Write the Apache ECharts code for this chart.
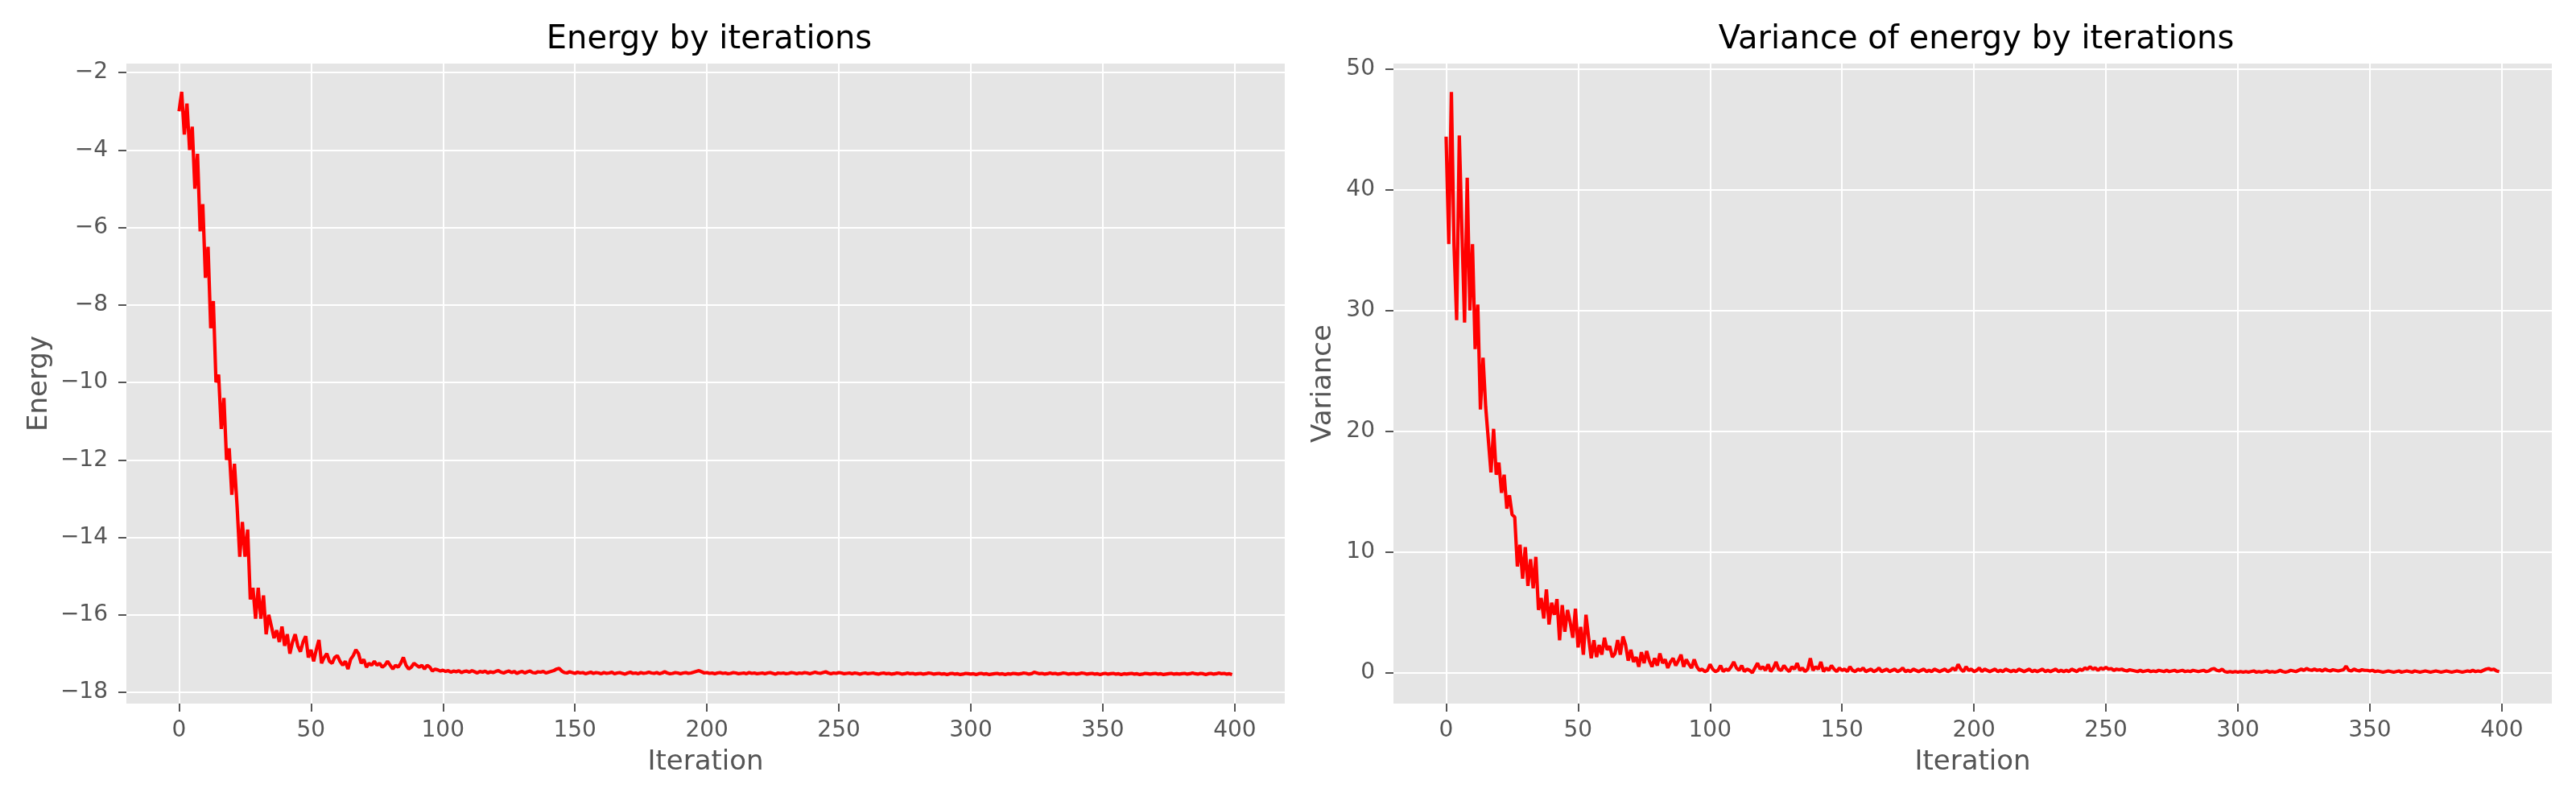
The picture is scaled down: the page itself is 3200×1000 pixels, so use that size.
<!DOCTYPE html>
<html>
<head>
<meta charset="utf-8">
<style>
  html, body { margin: 0; padding: 0; background: #fff; }
  #main { width: 3200px; height: 1000px; }
</style>
</head>
<body>
<div id="main"></div>
<script src="https://cdn.jsdelivr.net/npm/echarts@6/dist/echarts.min.js"></script>
<script>
  var chartDom = document.getElementById('main');
  var myChart = echarts.init(chartDom, null, { renderer: 'canvas' });
  var option;

  // energy per iteration
  const energy = [
    -3.0, -2.5, -3.6, -2.8, -4.0, -3.4, -5.0, -4.1, -6.1, -5.4, -7.3, -6.5, -8.6, -7.9, -10.0, -9.8, -11.2, -10.4, -12.0, -11.7,
    -12.9, -12.1, -13.2, -14.5, -13.6, -14.5, -13.8, -15.6, -15.3, -16.1, -15.3, -16.1, -15.5, -16.5, -16.0, -16.3, -16.6, -16.4, -16.7, -16.3,
    -16.8, -16.5, -17.0, -16.7, -16.5, -16.8, -16.95, -16.7, -16.55, -17.1, -16.9, -17.2, -16.9, -16.65, -17.25, -17.1, -17.0, -17.2, -17.25, -17.1,
    -17.05, -17.2, -17.3, -17.2, -17.4, -17.15, -17.05, -16.9, -17.0, -17.25, -17.15, -17.35, -17.25, -17.3, -17.2, -17.3, -17.25, -17.35, -17.3, -17.2,
    -17.3, -17.4, -17.3, -17.35, -17.25, -17.1, -17.3, -17.4, -17.35, -17.25, -17.3, -17.35, -17.3, -17.4, -17.3, -17.35, -17.45, -17.4, -17.42, -17.45,
    -17.43, -17.46, -17.44, -17.48, -17.45, -17.47, -17.44, -17.49, -17.46, -17.45, -17.48, -17.44, -17.47, -17.5, -17.46, -17.48, -17.45, -17.5, -17.47, -17.49,
    -17.46, -17.44, -17.48, -17.5, -17.47, -17.45, -17.49, -17.46, -17.51, -17.48, -17.46, -17.5, -17.47, -17.45, -17.49, -17.5, -17.47, -17.48, -17.46, -17.5,
    -17.48, -17.46, -17.44, -17.4, -17.38, -17.45, -17.49, -17.5, -17.47, -17.49, -17.51, -17.48, -17.5, -17.49, -17.52, -17.5, -17.48, -17.51, -17.49, -17.5,
    -17.52, -17.49, -17.51, -17.5, -17.48, -17.52, -17.5, -17.49, -17.51, -17.53, -17.5, -17.48, -17.51, -17.5, -17.52, -17.49, -17.51, -17.5, -17.48, -17.5,
    -17.51, -17.49, -17.52, -17.5, -17.47, -17.5, -17.52, -17.51, -17.49, -17.5, -17.52, -17.5, -17.49, -17.51, -17.5, -17.48, -17.46, -17.44, -17.47, -17.5,
    -17.49, -17.51, -17.5, -17.52, -17.5, -17.49, -17.51, -17.5, -17.52, -17.51, -17.49, -17.5, -17.52, -17.51, -17.5, -17.52, -17.49, -17.51, -17.5, -17.52,
    -17.51, -17.5, -17.52, -17.5, -17.49, -17.51, -17.53, -17.5, -17.51, -17.5, -17.52, -17.51, -17.49, -17.5, -17.52, -17.5, -17.51, -17.49, -17.5, -17.52,
    -17.5, -17.48, -17.5, -17.51, -17.49, -17.47, -17.5, -17.52, -17.5, -17.51, -17.49, -17.5, -17.52, -17.51, -17.5, -17.52, -17.5, -17.51, -17.53, -17.51,
    -17.5, -17.52, -17.51, -17.5, -17.52, -17.53, -17.51, -17.5, -17.52, -17.51, -17.53, -17.52, -17.5, -17.51, -17.53, -17.52, -17.5, -17.52, -17.51, -17.53,
    -17.52, -17.51, -17.53, -17.52, -17.5, -17.51, -17.53, -17.52, -17.51, -17.53, -17.52, -17.54, -17.52, -17.51, -17.53, -17.52, -17.54, -17.53, -17.51, -17.52,
    -17.53, -17.52, -17.54, -17.52, -17.51, -17.53, -17.52, -17.54, -17.53, -17.52, -17.51, -17.53, -17.52, -17.54, -17.52, -17.53, -17.51, -17.52, -17.53, -17.52,
    -17.5, -17.51, -17.53, -17.52, -17.48, -17.5, -17.52, -17.51, -17.53, -17.52, -17.5, -17.52, -17.51, -17.53, -17.52, -17.5, -17.51, -17.53, -17.52, -17.51,
    -17.53, -17.52, -17.5, -17.51, -17.53, -17.52, -17.51, -17.53, -17.52, -17.54, -17.52, -17.51, -17.53, -17.52, -17.51, -17.53, -17.52, -17.54, -17.52, -17.53,
    -17.52, -17.51, -17.53, -17.52, -17.54, -17.53, -17.51, -17.52, -17.53, -17.52, -17.51, -17.53, -17.52, -17.54, -17.53, -17.52, -17.51, -17.53, -17.52, -17.53,
    -17.52, -17.51, -17.53, -17.52, -17.5, -17.52, -17.53, -17.51, -17.52, -17.54, -17.52, -17.51, -17.53, -17.52, -17.5, -17.52, -17.51, -17.53, -17.52, -17.54
  ];

  // variance of energy per iteration
  const variance = [
    44.4, 35.5, 48.1, 35.4, 29.2, 44.5, 36.5, 29.0, 41.0, 30.0, 35.5, 26.8, 30.5, 21.8, 26.1, 22.0, 19.3, 16.6, 20.2, 16.4,
    17.4, 14.9, 16.4, 13.6, 14.7, 13.1, 12.9, 8.8, 10.6, 7.8, 10.4, 7.2, 9.4, 7.0, 9.6, 5.2, 6.2, 4.5, 6.9, 4.0,
    5.8, 4.8, 6.1, 2.7, 5.6, 3.4, 5.2, 4.2, 2.9, 5.3, 2.1, 3.8, 1.5, 4.8, 2.9, 1.2, 2.7, 1.3, 2.3, 1.5,
    2.9, 1.9, 2.2, 1.3, 1.6, 2.7, 1.5, 3.0, 2.3, 1.0, 1.9, 0.9, 1.3, 0.5, 1.7, 0.8, 1.8, 1.0, 0.5, 1.2,
    0.6, 1.6, 0.8, 1.1, 0.4, 0.9, 1.2, 0.6, 1.0, 1.5, 0.5, 1.1, 0.7, 0.4, 1.1, 0.5, 0.2, 0.3, 0.1, 0.2,
    0.7, 0.3, 0.1, 0.2, 0.6, 0.1, 0.3, 0.2, 0.5, 0.9,
    0.4, 0.2, 0.6, 0.1, 0.3, 0.2, 0.0, 0.4, 0.8, 0.3, 0.5, 0.2, 0.7, 0.1, 0.4, 0.9, 0.3, 0.2, 0.6, 0.3,
    0.1, 0.5, 0.3, 0.8, 0.2, 0.4, 0.1, 0.3, 1.2, 0.2, 0.5, 0.3, 0.9, 0.1, 0.4, 0.2, 0.6, 0.3, 0.1, 0.4,
    0.2, 0.3, 0.1, 0.5, 0.2, 0.1, 0.3, 0.2, 0.4, 0.1, 0.2, 0.3, 0.1, 0.2, 0.4, 0.1, 0.2, 0.3, 0.1, 0.2,
    0.3, 0.1, 0.2, 0.4, 0.1, 0.2, 0.1, 0.3, 0.2, 0.1, 0.2, 0.3, 0.1, 0.2, 0.1, 0.3, 0.2, 0.1, 0.2, 0.3,
    0.1, 0.2, 0.4, 0.2, 0.7, 0.3, 0.1, 0.5, 0.2, 0.3, 0.1, 0.2, 0.4, 0.1, 0.3, 0.2, 0.1, 0.2, 0.3, 0.1,
    0.2, 0.1, 0.3, 0.2, 0.1, 0.2, 0.1, 0.3, 0.2, 0.1, 0.2, 0.3, 0.1, 0.2, 0.1, 0.2, 0.3, 0.1, 0.2, 0.1,
    0.2, 0.3, 0.1, 0.2, 0.1, 0.2, 0.1, 0.3, 0.2, 0.1, 0.3, 0.2, 0.4, 0.3, 0.5, 0.3, 0.4, 0.2, 0.4, 0.3,
    0.45, 0.3, 0.35, 0.2, 0.3, 0.25, 0.3, 0.2, 0.15, 0.25, 0.2, 0.15, 0.1, 0.2, 0.1, 0.15, 0.2, 0.1, 0.15, 0.1,
    0.2, 0.15, 0.1, 0.2, 0.1, 0.15, 0.2, 0.1, 0.15, 0.2, 0.1, 0.15, 0.1, 0.2, 0.15, 0.1, 0.15, 0.2, 0.1, 0.15,
    0.3, 0.35, 0.2, 0.15, 0.3, 0.1, 0.05, 0.1, 0.05, 0.1, 0.05, 0.1, 0.05, 0.1, 0.05, 0.1, 0.15, 0.05, 0.1, 0.05,
    0.1, 0.15, 0.05, 0.1, 0.05, 0.1, 0.2, 0.1, 0.05, 0.1, 0.2, 0.15, 0.1, 0.2, 0.3, 0.2, 0.35, 0.25, 0.2, 0.3,
    0.2, 0.25, 0.15, 0.3, 0.2, 0.15, 0.25, 0.2, 0.15, 0.2, 0.25, 0.55, 0.2, 0.15, 0.3, 0.2, 0.15, 0.25, 0.2, 0.2,
    0.15, 0.2, 0.1, 0.15, 0.1, 0.05, 0.1, 0.15, 0.1, 0.05, 0.1, 0.15, 0.05, 0.1, 0.15, 0.1, 0.05, 0.15, 0.1, 0.05,
    0.1, 0.15, 0.1, 0.05, 0.1, 0.15, 0.1, 0.05, 0.1, 0.15, 0.1, 0.05, 0.1, 0.15, 0.1, 0.05, 0.1, 0.15, 0.1, 0.2,
    0.1, 0.15, 0.1, 0.2, 0.3, 0.35, 0.25, 0.3, 0.15, 0.1
  ];

  const iterations = energy.map((_, i) => i);

  const xTicks = [0, 50, 100, 150, 200, 250, 300, 350, 400];
  const energyTicks = [-18, -16, -14, -12, -10, -8, -6, -4, -2];
  const varianceTicks = [0, 10, 20, 30, 40, 50];

  const titles = ['Energy by iterations', 'Variance of energy by iterations'];
  const yNames = ['Energy', 'Variance'];

  const FONT = 'DejaVu Sans';
  const minus = (v) => (v < 0 ? '\u2212' + Math.abs(v) : String(v));

  function xAxis(gridIndex) {
    return {
      type: 'value',
      gridIndex: gridIndex,
      min: -19.95,
      max: 418.95,
      name: 'Iteration',
      nameLocation: 'middle',
      nameGap: 56,
      nameTextStyle: { color: '#555555', fontSize: 34, fontFamily: FONT },
      axisLine: { show: false, onZero: false },
      axisTick: {
        show: true,
        length: 10,
        customValues: xTicks,
        lineStyle: { color: '#555555', width: 2 },
      },
      axisLabel: {
        customValues: xTicks,
        color: '#555555',
        fontSize: 28,
        fontFamily: FONT,
        margin: 20,
        formatter: minus,
      },
      splitLine: { show: true, lineStyle: { color: '#ffffff', width: 2 } },
    };
  }

  function yAxis(gridIndex, min, max, ticks, name, gap) {
    return {
      type: 'value',
      gridIndex: gridIndex,
      min: min,
      max: max,
      name: name,
      nameLocation: 'middle',
      nameGap: gap,
      nameTextStyle: { color: '#555555', fontSize: 34, fontFamily: FONT },
      axisLine: { show: false, onZero: false },
      axisTick: {
        show: true,
        length: 10,
        customValues: ticks,
        lineStyle: { color: '#555555', width: 2 },
      },
      axisLabel: {
        customValues: ticks,
        color: '#555555',
        fontSize: 28,
        fontFamily: FONT,
        margin: 23,
        formatter: minus,
      },
      splitLine: { show: true, lineStyle: { color: '#ffffff', width: 2 } },
    };
  }

  option = {
    backgroundColor: '#ffffff',
    animation: false,
    title: [
      {
        text: titles[0],
        left: 876,
        top: 25,
        textAlign: 'center',
        textStyle: { fontFamily: FONT, fontSize: 40, fontWeight: 'normal', color: '#000000' },
      },
      {
        text: titles[1],
        left: 2450,
        top: 25,
        textAlign: 'center',
        textStyle: { fontFamily: FONT, fontSize: 40, fontWeight: 'normal', color: '#000000' },
      },
    ],
    grid: [
      { left: 157, top: 79, width: 1439, height: 795, show: true, backgroundColor: '#E5E5E5', borderWidth: 0 },
      { left: 1731, top: 79, width: 1439, height: 795, show: true, backgroundColor: '#E5E5E5', borderWidth: 0 },
    ],
    xAxis: [xAxis(0), xAxis(1)],
    yAxis: [
      yAxis(0, -18.29, -1.77, energyTicks, yNames[0], 91),
      yAxis(1, -2.55, 50.45, varianceTicks, yNames[1], 70),
    ],
    series: [
      {
        type: 'line',
        xAxisIndex: 0,
        yAxisIndex: 0,
        data: energy.map((v, i) => [iterations[i], v]),
        showSymbol: false,
        silent: true,
        lineStyle: { color: '#ff0000', width: 4.2 },
      },
      {
        type: 'line',
        xAxisIndex: 1,
        yAxisIndex: 1,
        data: variance.map((v, i) => [iterations[i], v]),
        showSymbol: false,
        silent: true,
        lineStyle: { color: '#ff0000', width: 4.2 },
      },
    ],
  };

  option && myChart.setOption(option);

  window.onresize = function () {
    myChart.resize();
  };
</script>
</body>
</html>
